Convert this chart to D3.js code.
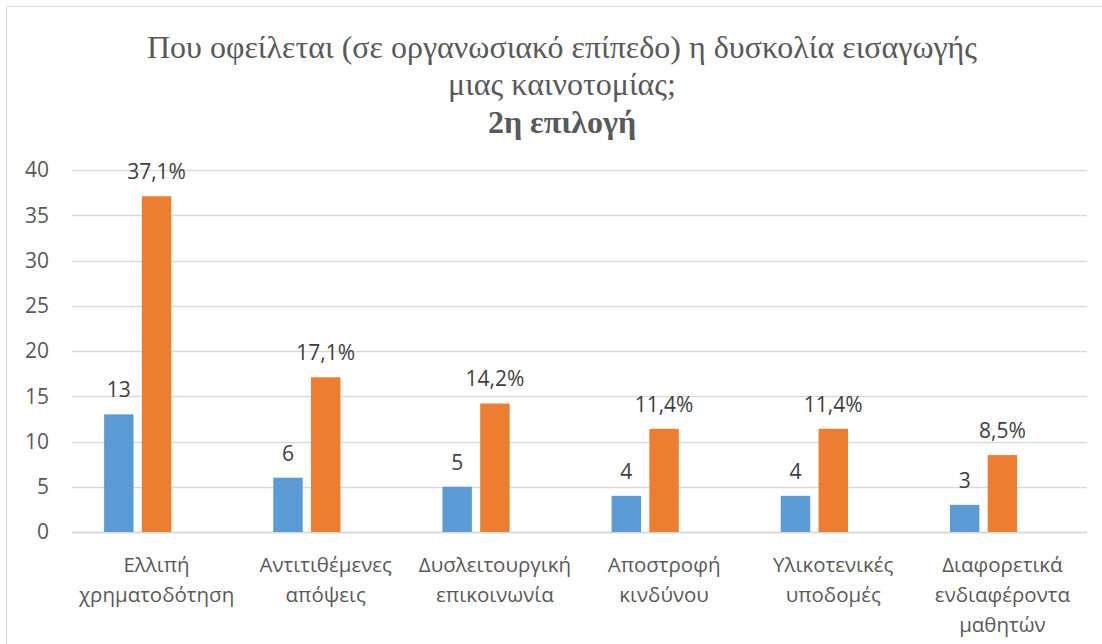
<!DOCTYPE html>
<html>
<head>
<meta charset="utf-8">
<script src="https://cdn.jsdelivr.net/npm/d3@7"></script>
<style>
  body { margin: 0; background: #fff; }
  svg { display: block; }
</style>
</head>
<body>
<div id="chart"></div>
<script>
// chart data
var categories = [
  ["Ελλιπή", "χρηματοδότηση"],
  ["Αντιτιθέμενες", "απόψεις"],
  ["Δυσλειτουργική", "επικοινωνία"],
  ["Αποστροφή", "κινδύνου"],
  ["Υλικοτενικές", "υποδομές"],
  ["Διαφορετικά", "ενδιαφέροντα", "μαθητών"]
];
var counts = [13, 6, 5, 4, 4, 3];
var percents = [37.1, 17.1, 14.2, 11.4, 11.4, 8.5];
var yTicks = [0, 5, 10, 15, 20, 25, 30, 35, 40];
var titleLines = ["Που οφείλεται (σε οργανωσιακό επίπεδο) η δυσκολία εισαγωγής", "μιας καινοτομίας;"];
var subTitle = "2η επιλογή";

var width = 1102, height = 644;
var margin = { top: 170, right: 15, bottom: 112, left: 72 };

var svg = d3.select("#chart").append("svg")
  .attr("width", width)
  .attr("height", height);

// chart frame (top + left edges visible)
svg.append("line").attr("x1", 6.5).attr("x2", width).attr("y1", 6.5).attr("y2", 6.5)
  .style("stroke", "#d9d9d9").style("stroke-width", 1);
svg.append("line").attr("x1", 6.5).attr("x2", 6.5).attr("y1", 6.5).attr("y2", height)
  .style("stroke", "#d9d9d9").style("stroke-width", 1);

// title
var title = svg.append("text")
  .attr("text-anchor", "middle")
  .style("font-family", "'Liberation Serif', 'Times New Roman', serif")
  .style("font-size", "32px")
  .style("fill", "#595959");
titleLines.forEach(function(t, i) {
  title.append("tspan").attr("x", 562).attr("y", 58 + i * 37).text(t);
});
title.append("tspan").attr("x", 562).attr("y", 133)
  .style("font-weight", "bold").text(subTitle);

var x0 = d3.scaleBand()
  .domain(d3.range(categories.length))
  .range([margin.left, width - margin.right]);

// three slots per group as in the source; third slot is empty
var x1 = d3.scaleBand()
  .domain([0, 1, 2])
  .range([0, x0.bandwidth()])
  .paddingInner(0.22)
  .paddingOuter(0.85);

var y = d3.scaleLinear()
  .domain([0, 40])
  .range([height - margin.bottom, margin.top]);

// gridlines
svg.append("g").selectAll("line")
  .data(yTicks)
  .enter().append("line")
    .attr("x1", margin.left)
    .attr("x2", width - margin.right)
    .attr("y1", function(d) { return Math.round(y(d)) + 0.5; })
    .attr("y2", function(d) { return Math.round(y(d)) + 0.5; })
    .style("stroke", "#d9d9d9")
    .style("stroke-width", function(d) { return d === 0 ? 2 : 1.3; });

// y tick labels
svg.append("g").selectAll("text")
  .data(yTicks)
  .enter().append("text")
    .attr("x", 49)
    .attr("y", function(d) { return y(d); })
    .attr("dy", "0.35em")
    .attr("text-anchor", "end")
    .style("font-family", "'Open Sans', sans-serif")
    .style("font-size", "21px")
    .style("fill", "#595959")
    .text(function(d) { return d; });

var fmtPct = function(v) { return d3.format(".1f")(v).replace(".", ",") + "%"; };

var series = [
  { values: counts, color: "#5b9bd5", label: function(v) { return v; } },
  { values: percents, color: "#ed7d31", label: fmtPct }
];

series.forEach(function(s, si) {
  var g = svg.append("g");
  g.selectAll("rect")
    .data(s.values)
    .enter().append("rect")
      .attr("x", function(d, i) { return x0(i) + x1(si); })
      .attr("width", x1.bandwidth())
      .attr("y", function(d) { return y(d); })
      .attr("height", function(d) { return y(0) - y(d); })
      .style("fill", s.color);
  g.selectAll("text")
    .data(s.values)
    .enter().append("text")
      .attr("x", function(d, i) { return x0(i) + x1(si) + x1.bandwidth() / 2; })
      .attr("y", function(d) { return y(d) - 17; })
      .attr("text-anchor", "middle")
      .style("font-family", "'Open Sans', sans-serif")
      .style("font-size", "21px")
      .style("fill", "#404040")
      .text(function(d) { return s.label(d); });
});

// category labels
var cat = svg.append("g").selectAll("text")
  .data(categories)
  .enter().append("text")
    .attr("text-anchor", "middle")
    .style("font-family", "'Open Sans', sans-serif")
    .style("font-size", "20.5px")
    .style("fill", "#595959");
cat.each(function(lines, i) {
  var t = d3.select(this);
  lines.forEach(function(l, j) {
    t.append("tspan")
      .attr("x", x0(i) + x0.bandwidth() / 2)
      .attr("y", 572 + j * 30)
      .text(l);
  });
});
</script>
</body>
</html>
